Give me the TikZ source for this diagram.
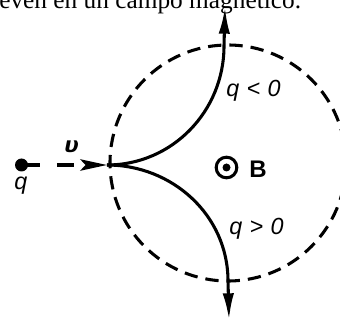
\documentclass[tikz,border=0pt]{standalone}
\usepackage{fontspec}
\setmainfont{Liberation Serif}
\newfontfamily\labfont{Liberation Sans}
\newfontfamily\gfont{DejaVu Sans}
\usetikzlibrary{arrows.meta}
\begin{document}
\begin{tikzpicture}[x=0.75pt,y=-0.75pt,
  wire/.style={line width=2.3pt},
  fielddash/.style={line width=2.3pt, dash pattern=on 10pt off 6pt},
  lab/.style={font=\labfont\itshape\fontsize{17.5}{17.5}\selectfont, inner sep=0pt, anchor=base west},
  vtip/.style={-{Latex[length=20pt,width=8.5pt]}},
  htip/.style={-{Stealth[length=20pt,width=8.5pt,inset=4pt]}}]
\useasboundingbox (0,0) rectangle (340,321);
\node[anchor=base west, inner sep=0pt, font=\fontsize{19}{19}\selectfont] (caption) at (-1,9) {even en un campo magnético.};
\node[circle, draw, fielddash, minimum size=177pt, inner sep=0pt] (field) at (228,163) {};
\node[circle, fill, minimum size=9.75pt, inner sep=0pt] (q) at (21.5,165) {};
\coordinate (entry) at (107,165);
\coordinate (topx) at (224,46);
\coordinate (toptip) at (225,7);
\coordinate (botx) at (228,281);
\coordinate (bottip) at (229,320);
\draw[wire, dash pattern=on 14pt off 12.5pt on 12.5pt off 60pt, htip] (q.center) -- (entry);
\draw[wire, vtip] (entry) to[out=0,in=-90] (topx) -- (toptip);
\draw[wire, vtip] (entry) to[out=0,in=90] (botx) -- (bottip);
\node[lab] (qneg) at (226,97) {q\hspace{5.5pt}<\hspace{5.5pt}0};
\node[lab] (qpos) at (229,235) {q\hspace{5.5pt}>\hspace{5.5pt}0};
\node[lab] (qlab) at (14,190) {q};
\node[anchor=base west, inner sep=0pt, font=\gfont\bfseries\itshape\fontsize{16}{16}\selectfont] (vlab) at (64,153) {υ};
\node[circle, draw, line width=2.3pt, minimum size=15.5pt, inner sep=0pt] (Bsym) at (226.5,167.5) {};
\node[circle, fill, minimum size=6pt, inner sep=0pt] (Bdot) at (Bsym.center) {};
\node[anchor=base west, inner sep=0pt, font=\labfont\bfseries\fontsize{18}{18}\selectfont] (Blab) at (249,178) {B};
\end{tikzpicture}
\end{document}
